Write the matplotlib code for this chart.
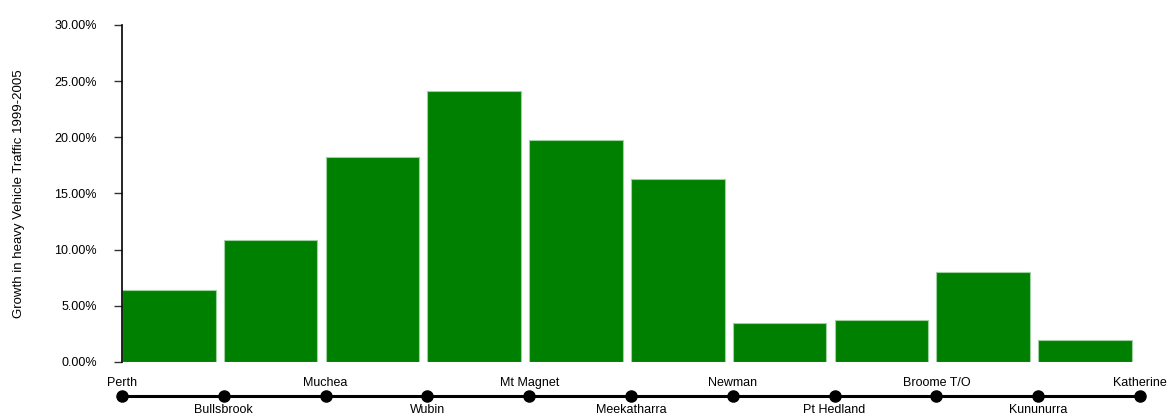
import numpy as np
from matplotlib import pyplot as plt
from matplotlib.ticker import PercentFormatter

plt.rcParams['font.family'] = ['Liberation Sans', 'DejaVu Sans']

towns = ['Perth', 'Bullsbrook', 'Muchea', 'Wubin', 'Mt Magnet', 'Meekatharra',
         'Newman', 'Pt Hedland', 'Broome T/O', 'Kununurra', 'Katherine']
# growth on each leg between consecutive towns
growth = [0.064, 0.1085, 0.1825, 0.241, 0.1975, 0.163, 0.0345, 0.037, 0.0805, 0.020]
yticks = [0.0, 0.05, 0.10, 0.15, 0.20, 0.25, 0.30]

W, H = 1170, 416
fig = plt.figure(figsize=(W / 100, H / 100), dpi=100)

x0, x1 = 122, 1140
ax = fig.add_axes([x0 / W, 54 / H, (x1 - x0) / W, 337 / H])
legs = np.arange(len(growth))
ax.bar(legs, growth, width=0.92, align='edge', color='#008000',
       edgecolor='#9fd09f', linewidth=0.8)
ax.set_xlim(0, len(towns) - 1)
ax.set_ylim(0, 0.30)
ax.set_yticks(yticks)
ax.yaxis.set_major_formatter(PercentFormatter(1.0, decimals=2))
ax.tick_params(axis='y', direction='out', length=6, width=1, pad=12,
               labelsize=9, color='#333333')
ax.set_xticks([])
for s in ['top', 'right', 'bottom']:
    ax.spines[s].set_visible(False)
ax.spines['left'].set_linewidth(1.2)
ax.set_ylabel('Growth in heavy Vehicle Traffic 1999-2005', fontsize=9.5, labelpad=21)

# route strip along the bottom
rt = fig.add_axes([x0 / W, 0, (x1 - x0) / W, 52 / H])
rt.set_xlim(0, len(towns) - 1)
rt.set_ylim(0, 52)
rt.axis('off')
pos = np.arange(len(towns))
rt.plot(pos, np.full(len(towns), 20), color='black', linewidth=2.2,
        marker='o', markersize=8, clip_on=False)
for i, t in enumerate(towns):
    y = 33 if i % 2 == 0 else 6
    rt.text(i, y, t, ha='center', va='center', fontsize=9, clip_on=False)

fig.savefig('out.png', dpi=100)
